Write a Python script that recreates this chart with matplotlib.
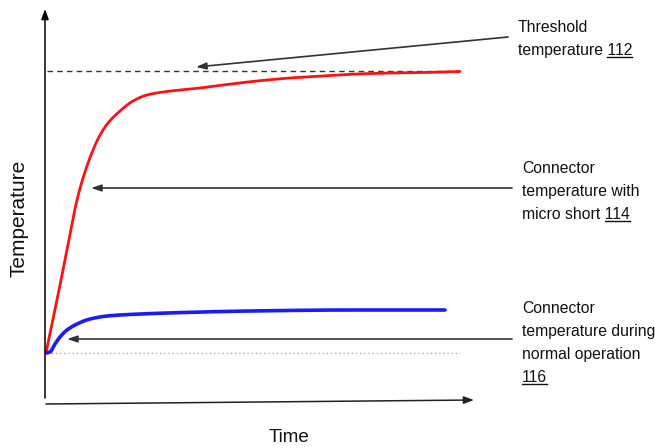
import matplotlib
matplotlib.use("Agg")
import matplotlib.pyplot as plt
import numpy as np

# Schematic data (drawing units: x = time, y = temperature, screen-like, y downward)
red_time = [46, 57, 67, 77, 84, 91, 99, 108, 120, 133, 147, 163, 180, 200, 223, 257, 290, 323, 357, 390, 423, 460]
red_temp = [353, 300, 250, 200, 175, 155, 137, 123, 111, 101, 95, 92, 90, 88, 85, 81, 78, 76, 74, 73, 72.5, 71.5]
blue_time = [47, 50, 55, 60, 67, 77, 90, 107, 120, 167, 250, 350, 445]
blue_temp = [353, 352, 344, 337, 330, 324, 319, 316, 315, 313, 311, 310, 310]

threshold_level = 71
baseline_level = 353

labels = [
    (["Threshold", "temperature 112"], "112", 518, [32, 55]),
    (["Connector", "temperature with", "micro short 114"], "114", 522, [173, 196, 219]),
    (["Connector", "temperature during", "normal operation", "116"], "116", 522, [313, 336, 359, 382]),
]
arrows = [((508, 37), (196, 67)), ((512, 188), (91, 188)), ((512, 339), (67, 339))]

font = ["Liberation Sans", "DejaVu Sans"]


def pchip_render(xs, ys, n=20):
    """Monotone cubic (Fritsch-Carlson) rendering through every read point."""
    x = np.asarray(xs, float)
    y = np.asarray(ys, float)
    h = np.diff(x)
    d = np.diff(y) / h
    m = np.zeros_like(y)
    m[0], m[-1] = d[0], d[-1]
    for k in range(1, len(x) - 1):
        if d[k - 1] * d[k] <= 0:
            m[k] = 0
        else:
            w1 = 2 * h[k] + h[k - 1]
            w2 = h[k] + 2 * h[k - 1]
            m[k] = (w1 + w2) / (w1 / d[k - 1] + w2 / d[k])
    ox, oy = [], []
    for k in range(len(x) - 1):
        t = np.linspace(0, 1, n, endpoint=False)
        h00 = 2 * t**3 - 3 * t**2 + 1
        h10 = t**3 - 2 * t**2 + t
        h01 = -2 * t**3 + 3 * t**2
        h11 = t**3 - t**2
        ox.extend(x[k] + t * h[k])
        oy.extend(h00 * y[k] + h10 * h[k] * m[k] + h01 * y[k + 1] + h11 * h[k] * m[k + 1])
    ox.append(x[-1])
    oy.append(y[-1])
    return np.array(ox), np.array(oy)


fig = plt.figure(figsize=(6.55, 4.48), dpi=100)
ax = fig.add_axes([0, 0, 1, 1])
ax.set_xlim(0, 655)
ax.set_ylim(448, 0)
ax.axis("off")

# axes arrows
ax.annotate("", xy=(45, 9), xytext=(45, 398),
            arrowprops=dict(arrowstyle="-|>,head_length=0.6,head_width=0.22", color="black", lw=1.1, shrinkA=0, shrinkB=0))
ax.annotate("", xy=(474, 400), xytext=(46, 404),
            arrowprops=dict(arrowstyle="-|>,head_length=0.6,head_width=0.22", color="#222222", lw=1.1, shrinkA=0, shrinkB=0))

# reference lines
ax.plot([47, 460], [threshold_level, threshold_level], color="#333333", lw=1.0, ls=(0, (4, 3)))
ax.plot([47, 460], [baseline_level, baseline_level], color="#aaaaaa", lw=1.0, ls=(0, (1, 2)))

# curves
rx, ry = pchip_render(red_time, red_temp)
bx, by = pchip_render(blue_time, blue_temp)
ax.plot(rx, ry, color="#ff1010", lw=2.0, solid_capstyle="round", solid_joinstyle="round")
ax.plot(bx, by, color="#1a1aff", lw=2.6, solid_capstyle="round", solid_joinstyle="round")

# annotation arrows
for (start, tip) in arrows:
    ax.annotate("", xy=tip, xytext=start,
                arrowprops=dict(arrowstyle="-|>,head_length=0.6,head_width=0.2", color="#333333", lw=1.2, shrinkA=0, shrinkB=0))

# labels
fig.canvas.draw()
renderer = fig.canvas.get_renderer()
inv = ax.transData.inverted()
for lines, num, x, ys in labels:
    for line, y in zip(lines, ys):
        t = ax.text(x, y, line, fontsize=11.3, family=font, va="baseline", ha="left", color="#111111")
        if line.endswith(num):
            bb = t.get_window_extent(renderer)
            right = inv.transform((bb.x1, bb.y0))[0]
            n = ax.text(right, y, num, fontsize=11.3, family=font, va="baseline", ha="right", alpha=0)
            nb = n.get_window_extent(renderer)
            left = inv.transform((nb.x0, nb.y0))[0]
            ax.plot([left, right], [y + 2.5, y + 2.5], color="#111111", lw=1.0)

ax.text(19, 218, "Temperature", fontsize=15, family=font, rotation=90, ha="center", va="center", color="#111111")
ax.text(289, 437, "Time", fontsize=13.5, family=font, ha="center", va="center", color="#111111")

fig.savefig("out.png", dpi=100)
